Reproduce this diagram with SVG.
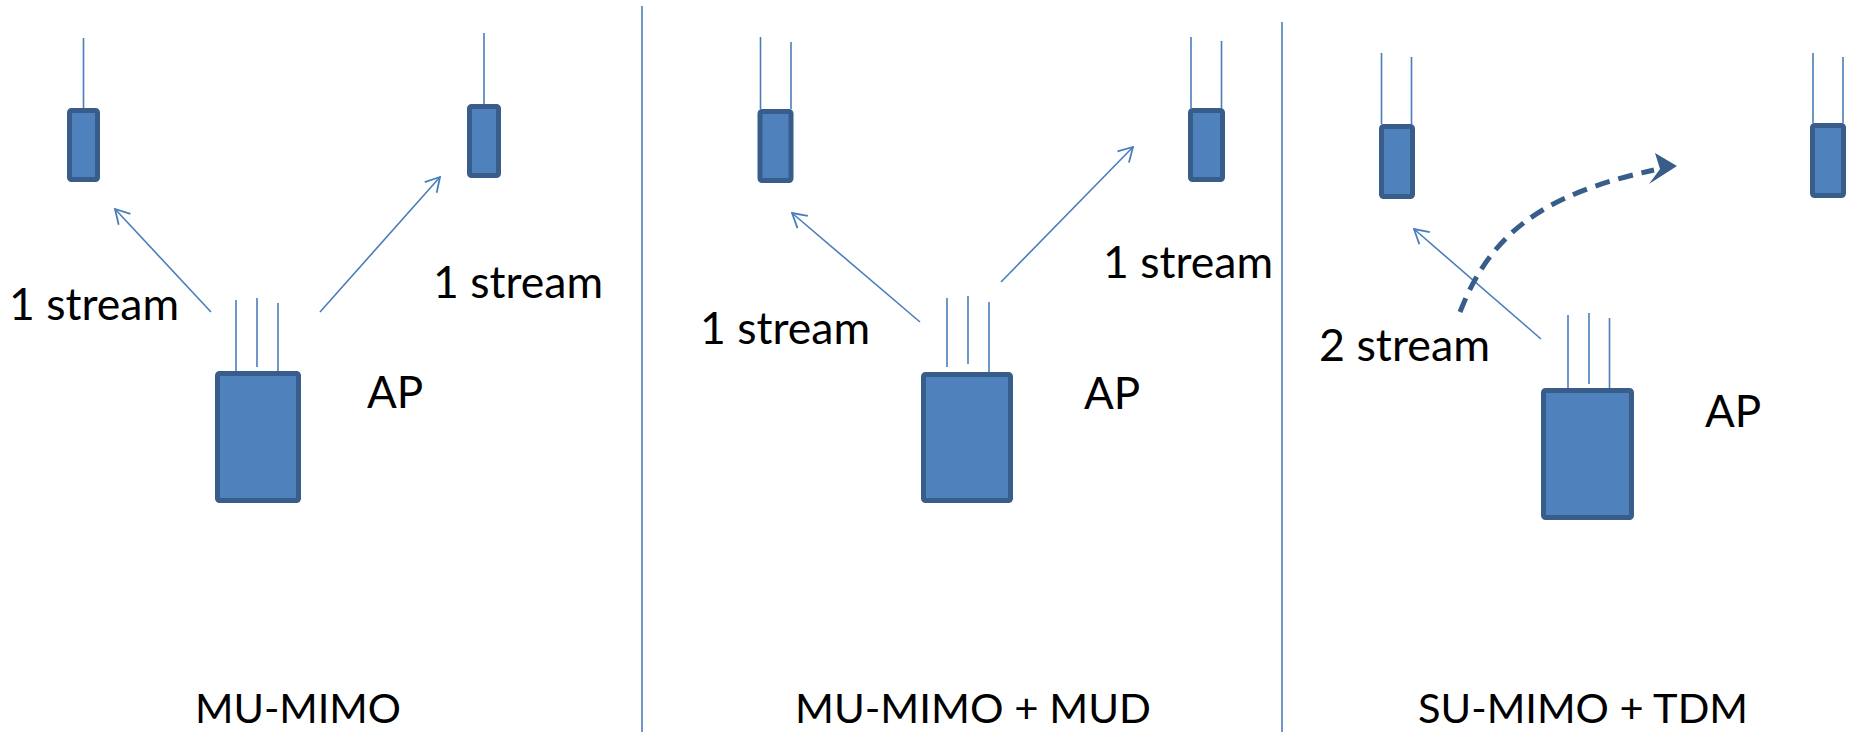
<svg xmlns="http://www.w3.org/2000/svg" width="1852" height="732" viewBox="0 0 1852 732">
<style>
.dev{fill:#4F81BD;stroke:#385D8A;stroke-width:5}
.ant{stroke:#4A7EBB;stroke-width:1.6;fill:none}
.arr{stroke:#4A7EBB;stroke-width:1.6;fill:none;marker-end:url(#open)}
.div{stroke:#4A7EBB;stroke-width:1.6}
.lbl{font-family:Lato,"Open Sans","Liberation Sans",sans-serif;font-size:44px;fill:#000}
.cap{font-family:Lato,"Open Sans","Liberation Sans",sans-serif;font-size:41px;fill:#000}
</style>
<defs>
<marker id="open" viewBox="0 0 16 18" refX="15" refY="9" markerWidth="16" markerHeight="18" markerUnits="userSpaceOnUse" orient="auto">
<path d="M1,1 L15,9 L1,17" fill="none" stroke="#4A7EBB" stroke-width="1.8"/>
</marker>
</defs>
<rect width="1852" height="732" fill="#fff"/>
<g id="dividers">
<line class="div" x1="642" y1="6" x2="642" y2="732"/>
<line class="div" x1="1282" y1="22" x2="1282" y2="732"/>
</g>
<!-- Panel 1 -->
<g id="p1-sta-left">
<line class="ant" x1="83.5" y1="38" x2="83.5" y2="108"/>
<rect class="dev" x="69.5" y="110.5" width="28" height="69" rx="2"/>
</g>
<g id="p1-sta-right">
<line class="ant" x1="484" y1="33" x2="484" y2="104"/>
<rect class="dev" x="469.5" y="106.5" width="29" height="69" rx="2"/>
</g>
<g id="p1-ap">
<line class="ant" x1="236" y1="300" x2="236" y2="371"/>
<line class="ant" x1="257" y1="298" x2="257" y2="367"/>
<line class="ant" x1="278" y1="303" x2="278" y2="371"/>
<rect class="dev" x="217.5" y="373.5" width="81" height="127" rx="2"/>
<text class="lbl" x="367" y="408">AP</text>
</g>
<!-- Panel 2 -->
<g id="p2-sta-left">
<line class="ant" x1="760.5" y1="37" x2="760.5" y2="109"/>
<line class="ant" x1="791" y1="42" x2="791" y2="109"/>
<rect class="dev" x="760" y="111.5" width="31" height="69" rx="2"/>
</g>
<g id="p2-sta-right">
<line class="ant" x1="1191" y1="37" x2="1191" y2="108"/>
<line class="ant" x1="1221.5" y1="41" x2="1221.5" y2="108"/>
<rect class="dev" x="1190.5" y="110.5" width="32" height="69" rx="2"/>
</g>
<g id="p2-ap">
<line class="ant" x1="947" y1="298" x2="947" y2="367"/>
<line class="ant" x1="968" y1="296" x2="968" y2="364"/>
<line class="ant" x1="989" y1="302" x2="989" y2="372"/>
<rect class="dev" x="923.5" y="374.5" width="87" height="126" rx="2"/>
<text class="lbl" x="1084" y="409">AP</text>
</g>
<!-- Panel 3 -->
<g id="p3-sta-left">
<line class="ant" x1="1381.5" y1="53" x2="1381.5" y2="124"/>
<line class="ant" x1="1411.5" y1="57" x2="1411.5" y2="124"/>
<rect class="dev" x="1381.5" y="126.5" width="31" height="70" rx="2"/>
</g>
<g id="p3-sta-right">
<line class="ant" x1="1813" y1="53" x2="1813" y2="123"/>
<line class="ant" x1="1843" y1="57" x2="1843" y2="123"/>
<rect class="dev" x="1812.5" y="125.5" width="31" height="70" rx="2"/>
</g>
<g id="p3-ap">
<line class="ant" x1="1568" y1="315" x2="1568" y2="388"/>
<line class="ant" x1="1589" y1="313" x2="1589" y2="384"/>
<line class="ant" x1="1609.5" y1="318" x2="1609.5" y2="390"/>
<rect class="dev" x="1543.5" y="390.5" width="88" height="127" rx="2"/>
<text class="lbl" x="1705" y="427">AP</text>
</g>
<g id="connectors">
<line class="arr" x1="211" y1="312" x2="115" y2="209"/>
<line class="arr" x1="320" y1="312" x2="440" y2="177"/>
<line class="arr" x1="920" y1="322" x2="792" y2="213"/>
<line class="arr" x1="1001" y1="282" x2="1133" y2="147"/>
<line class="arr" x1="1541" y1="339" x2="1414" y2="229"/>
<path d="M1460,312 C1490,235 1540,195 1654,170" fill="none" stroke="#385D8A" stroke-width="5" stroke-dasharray="15 9"/>
<path d="M1677,166 L1655,153 L1660,169 L1649,184 Z" fill="#385D8A"/>
</g>
<g id="labels">
<text class="lbl" x="9" y="320" textLength="170" lengthAdjust="spacingAndGlyphs">1 stream</text>
<text class="lbl" x="433" y="298" textLength="170" lengthAdjust="spacingAndGlyphs">1 stream</text>
<text class="lbl" x="700" y="344" textLength="170" lengthAdjust="spacingAndGlyphs">1 stream</text>
<text class="lbl" x="1103" y="278" textLength="170" lengthAdjust="spacingAndGlyphs">1 stream</text>
<text class="lbl" x="1319" y="361" textLength="171" lengthAdjust="spacingAndGlyphs">2 stream</text>
<text class="cap" x="195" y="723" textLength="206" lengthAdjust="spacingAndGlyphs">MU-MIMO</text>
<text class="cap" x="795" y="723" textLength="356" lengthAdjust="spacingAndGlyphs">MU-MIMO + MUD</text>
<text class="cap" x="1418" y="723" textLength="330" lengthAdjust="spacingAndGlyphs">SU-MIMO + TDM</text>
</g>
</svg>
